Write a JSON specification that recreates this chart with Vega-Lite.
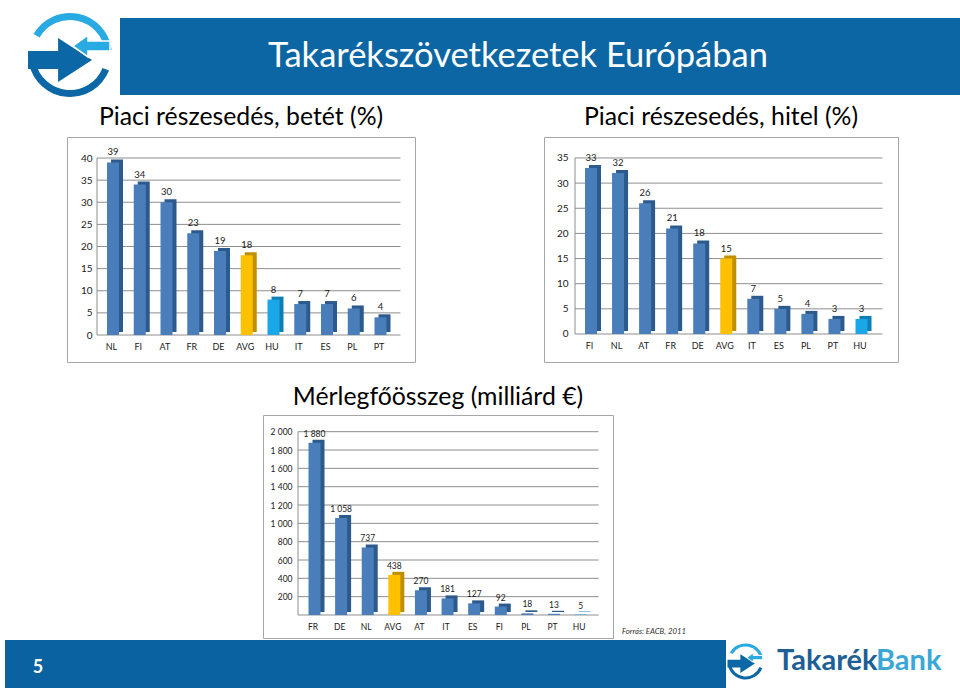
{
  "$schema": "https://vega.github.io/schema/vega-lite/v6.json",
  "background": "white",
  "padding": {"left": 0, "top": 13, "right": 0, "bottom": 8},
  "config": {
    "view": {"stroke": null},
    "font": "Lato",
    "locale": {"number": {"decimal": ",", "thousands": " ", "grouping": [3], "currency": ["", " €"]}}
  },
  "spacing": 0,
  "vconcat": [
    {
      "spacing": 0,
      "hconcat": [
        {
          "width": 120, "height": 86,
          "view": {"fill": "white", "stroke": null},
          "data": {"values": [{}]},
          "layer": [
            {"mark": {"type": "arc", "theta": -1.05, "theta2": 1.45, "innerRadius": 35, "outerRadius": 42, "color": "#2aaae2", "xOffset": 10, "yOffset": -6}, "encoding": {}},
            {"mark": {"type": "arc", "theta": 1.95, "theta2": 4.5, "innerRadius": 35, "outerRadius": 42, "color": "#0b67a5", "xOffset": 10, "yOffset": -6}, "encoding": {}},
            {"mark": {"type": "point", "shape": "M-1,-0.28L-0.06,-0.28L-0.06,-0.69L1,0L-0.06,0.69L-0.06,0.28L-1,0.28Z", "size": 4096, "filled": true, "opacity": 1, "color": "#0b67a5", "xOffset": 0, "yOffset": -1}, "encoding": {}},
            {"mark": {"type": "point", "shape": "M-1,0L-0.19,-0.59L-0.19,-0.27L1,-0.27L1,0.27L-0.19,0.27L-0.19,0.59Z", "size": 1369, "filled": true, "opacity": 1, "color": "#2aaae2", "stroke": "white", "strokeWidth": 1.5, "xOffset": 31.5, "yOffset": -15}, "encoding": {}}
          ]
        },
        {
          "width": 840, "height": 77,
          "view": {"fill": "#0c66a4", "stroke": null},
          "data": {"values": [{}]},
          "mark": {"type": "text", "text": "Takarékszövetkezetek Európában", "color": "white", "fontSize": 34.5, "align": "center", "baseline": "middle", "dx": -22},
          "encoding": {}
        }
      ]
    },
    {
      "spacing": 0,
      "hconcat": [
        {"width": 66, "height": 247, "view": {"fill": "white", "stroke": null}, "data": {"values": []}, "mark": "point"},
        {
          "width": 348, "height": 225,
          "view": {"stroke": "#a6a6a6", "strokeWidth": 1, "fill": "white"},
          "title": {"text": "Piaci részesedés, betét (%)", "frame": "group", "anchor": "middle", "fontSize": 24.8, "fontWeight": "normal", "color": "#000000", "baseline": "top", "offset": 7},
          "data": {"values": [
            {"country": "NL", "value": 39, "kind": "EU"},
            {"country": "FI", "value": 34, "kind": "EU"},
            {"country": "AT", "value": 30, "kind": "EU"},
            {"country": "FR", "value": 23, "kind": "EU"},
            {"country": "DE", "value": 19, "kind": "EU"},
            {"country": "AVG", "value": 18, "kind": "AVG"},
            {"country": "HU", "value": 8, "kind": "HU"},
            {"country": "IT", "value": 7, "kind": "EU"},
            {"country": "ES", "value": 7, "kind": "EU"},
            {"country": "PL", "value": 6, "kind": "EU"},
            {"country": "PT", "value": 4, "kind": "EU"}
          ]},
          "encoding": {
            "x": {"field": "country", "type": "nominal", "sort": null,
                  "scale": {"type": "point", "domain": ["NL","FI","AT","FR","DE","AVG","HU","IT","ES","PL","PT"], "range": [46, 313.5], "padding": 0},
                  "axis": {"orient": "bottom", "offset": -27, "title": null, "domain": false, "ticks": false, "grid": false, "labelAngle": 0, "labelPadding": 7, "labelOffset": -2, "labelFontSize": 9, "labelColor": "#1a1a1a"}},
            "y": {"field": "value", "type": "quantitative",
                  "scale": {"domain": [-6.1, 44.75], "nice": false, "zero": false},
                  "axis": {"orient": "left", "offset": -30, "title": null, "values": [0,5,10,15,20,25,30,35,40], "domain": false, "ticks": false, "grid": false, "labelPadding": 5, "labelFontSize": 10, "labelColor": "#1a1a1a"}}
          },
          "layer": [
            {"data": {"values": [{"country": "NL", "value": 0},{"country": "NL", "value": 5},{"country": "NL", "value": 10},{"country": "NL", "value": 15},{"country": "NL", "value": 20},{"country": "NL", "value": 25},{"country": "NL", "value": 30},{"country": "NL", "value": 35},{"country": "NL", "value": 40}]},
             "mark": {"type": "rule", "color": "#8e8e8e", "strokeWidth": 1, "xOffset": -16, "x2Offset": 20},
             "encoding": {"x2": {"datum": "PT"}}},
            {"data": {"values": [{"country": "NL", "value": 0}]},
             "mark": {"type": "rule", "color": "#8e8e8e", "strokeWidth": 1, "xOffset": -16},
             "encoding": {"y2": {"datum": 40}}},
            {"mark": {"type": "bar", "width": 12, "xOffset": 4, "yOffset": -3},
             "encoding": {"fill": {"field": "kind", "type": "nominal", "scale": {"domain": ["EU","AVG","HU"], "range": ["#2c5a8c","#c08f00","#0e7fb5"]}, "legend": null}}},
            {"mark": {"type": "bar", "width": 12},
             "encoding": {"color": {"field": "kind", "type": "nominal", "scale": {"domain": ["EU","AVG","HU"], "range": ["#4a7ebb","#ffc000","#19a7e8"]}, "legend": null}}},
            {"mark": {"type": "text", "baseline": "alphabetic", "dy": -7, "fontSize": 9.5, "color": "#1a1a1a"},
             "encoding": {"text": {"field": "value", "type": "quantitative"}}}
          ]
        },
        {"width": 127, "height": 1, "view": {"fill": "white", "stroke": null}, "data": {"values": []}, "mark": "point"},
        {
          "width": 354, "height": 225,
          "view": {"stroke": "#a6a6a6", "strokeWidth": 1, "fill": "white"},
          "title": {"text": "Piaci részesedés, hitel (%)", "frame": "group", "anchor": "middle", "fontSize": 24.8, "fontWeight": "normal", "color": "#000000", "baseline": "top", "offset": 7},
          "data": {"values": [
            {"country": "FI", "value": 33, "kind": "EU"},
            {"country": "NL", "value": 32, "kind": "EU"},
            {"country": "AT", "value": 26, "kind": "EU"},
            {"country": "FR", "value": 21, "kind": "EU"},
            {"country": "DE", "value": 18, "kind": "EU"},
            {"country": "AVG", "value": 15, "kind": "AVG"},
            {"country": "IT", "value": 7, "kind": "EU"},
            {"country": "ES", "value": 5, "kind": "EU"},
            {"country": "PL", "value": 4, "kind": "EU"},
            {"country": "PT", "value": 3, "kind": "EU"},
            {"country": "HU", "value": 3, "kind": "HU"}
          ]},
          "encoding": {
            "x": {"field": "country", "type": "nominal", "sort": null,
                  "scale": {"type": "point", "domain": ["FI","NL","AT","FR","DE","AVG","IT","ES","PL","PT","HU"], "range": [47, 317.5], "padding": 0},
                  "axis": {"orient": "bottom", "offset": -28, "title": null, "domain": false, "ticks": false, "grid": false, "labelAngle": 0, "labelPadding": 7, "labelOffset": -2, "labelFontSize": 9, "labelColor": "#1a1a1a"}},
            "y": {"field": "value", "type": "quantitative",
                  "scale": {"domain": [-5.57, 39.17], "nice": false, "zero": false},
                  "axis": {"orient": "left", "offset": -31, "title": null, "values": [0,5,10,15,20,25,30,35], "domain": false, "ticks": false, "grid": false, "labelPadding": 7, "labelFontSize": 10, "labelColor": "#1a1a1a"}}
          },
          "layer": [
            {"data": {"values": [{"country": "FI", "value": 0},{"country": "FI", "value": 5},{"country": "FI", "value": 10},{"country": "FI", "value": 15},{"country": "FI", "value": 20},{"country": "FI", "value": 25},{"country": "FI", "value": 30},{"country": "FI", "value": 35}]},
             "mark": {"type": "rule", "color": "#8e8e8e", "strokeWidth": 1, "xOffset": -16, "x2Offset": 21},
             "encoding": {"x2": {"datum": "HU"}}},
            {"data": {"values": [{"country": "FI", "value": 0}]},
             "mark": {"type": "rule", "color": "#8e8e8e", "strokeWidth": 1, "xOffset": -16},
             "encoding": {"y2": {"datum": 35}}},
            {"mark": {"type": "bar", "width": 12, "xOffset": 4, "yOffset": -3},
             "encoding": {"fill": {"field": "kind", "type": "nominal", "scale": {"domain": ["EU","AVG","HU"], "range": ["#2c5a8c","#c08f00","#0e7fb5"]}, "legend": null}}},
            {"mark": {"type": "bar", "width": 12},
             "encoding": {"color": {"field": "kind", "type": "nominal", "scale": {"domain": ["EU","AVG","HU"], "range": ["#4a7ebb","#ffc000","#19a7e8"]}, "legend": null}}},
            {"mark": {"type": "text", "baseline": "alphabetic", "dy": -7, "fontSize": 9.5, "color": "#1a1a1a"},
             "encoding": {"text": {"field": "value", "type": "quantitative"}}}
          ]
        }
      ]
    },
    {
      "spacing": 0,
      "hconcat": [
        {"width": 262, "height": 225, "view": {"fill": "white", "stroke": null}, "data": {"values": []}, "mark": "point"},
        {
          "width": 350, "height": 223,
          "view": {"stroke": "#a6a6a6", "strokeWidth": 1, "fill": "white"},
          "title": {"text": "Mérlegfőösszeg (milliárd €)", "frame": "group", "anchor": "middle", "fontSize": 24.8, "fontWeight": "normal", "color": "#000000", "baseline": "top", "offset": 5},
          "data": {"values": [
            {"country": "FR", "value": 1880, "kind": "EU"},
            {"country": "DE", "value": 1058, "kind": "EU"},
            {"country": "NL", "value": 737, "kind": "EU"},
            {"country": "AVG", "value": 438, "kind": "AVG"},
            {"country": "AT", "value": 270, "kind": "EU"},
            {"country": "IT", "value": 181, "kind": "EU"},
            {"country": "ES", "value": 127, "kind": "EU"},
            {"country": "FI", "value": 92, "kind": "EU"},
            {"country": "PL", "value": 18, "kind": "EU"},
            {"country": "PT", "value": 13, "kind": "EU"},
            {"country": "HU", "value": 5, "kind": "HU"}
          ]},
          "encoding": {
            "x": {"field": "country", "type": "nominal", "sort": null,
                  "scale": {"type": "point", "domain": ["FR","DE","NL","AVG","AT","IT","ES","FI","PL","PT","HU"], "range": [51.5, 317.6], "padding": 0},
                  "axis": {"orient": "bottom", "offset": -23, "title": null, "domain": false, "ticks": false, "grid": false, "labelAngle": 0, "labelPadding": 7, "labelOffset": -2, "labelFontSize": 8.5, "labelColor": "#1a1a1a"}},
            "y": {"field": "value", "type": "quantitative",
                  "scale": {"domain": [-251, 2182], "nice": false, "zero": false},
                  "axis": {"orient": "left", "offset": -35, "title": null, "values": [200,400,600,800,1000,1200,1400,1600,1800,2000], "format": ",d", "domain": false, "ticks": false, "grid": false, "labelPadding": 6, "labelFontSize": 8.5, "labelColor": "#1a1a1a"}}
          },
          "layer": [
            {"data": {"values": [{"country": "FR", "value": 0},{"country": "FR", "value": 200},{"country": "FR", "value": 400},{"country": "FR", "value": 600},{"country": "FR", "value": 800},{"country": "FR", "value": 1000},{"country": "FR", "value": 1200},{"country": "FR", "value": 1400},{"country": "FR", "value": 1600},{"country": "FR", "value": 1800},{"country": "FR", "value": 2000}]},
             "mark": {"type": "rule", "color": "#8e8e8e", "strokeWidth": 1, "xOffset": -16.5, "x2Offset": 18},
             "encoding": {"x2": {"datum": "HU"}}},
            {"data": {"values": [{"country": "FR", "value": 0}]},
             "mark": {"type": "rule", "color": "#8e8e8e", "strokeWidth": 1, "xOffset": -16.5},
             "encoding": {"y2": {"datum": 2000}}},
            {"mark": {"type": "bar", "width": 12, "xOffset": 4, "yOffset": -3},
             "encoding": {"fill": {"field": "kind", "type": "nominal", "scale": {"domain": ["EU","AVG","HU"], "range": ["#2c5a8c","#c08f00","#0e7fb5"]}, "legend": null}}},
            {"mark": {"type": "bar", "width": 12},
             "encoding": {"color": {"field": "kind", "type": "nominal", "scale": {"domain": ["EU","AVG","HU"], "range": ["#4a7ebb","#ffc000","#19a7e8"]}, "legend": null}}},
            {"mark": {"type": "text", "baseline": "alphabetic", "dy": -6, "fontSize": 8.5, "color": "#1a1a1a"},
             "encoding": {"text": {"field": "value", "type": "quantitative", "format": ",d"}}}
          ]
        },
        {"width": 8, "height": 1, "view": {"fill": "white", "stroke": null}, "data": {"values": []}, "mark": "point"},
        {"width": 80, "height": 205, "view": {"fill": "white", "stroke": null}, "data": {"values": []}, "mark": "point",
         "title": {"text": "Forrás: EACB, 2011", "orient": "bottom", "anchor": "start", "frame": "group", "fontSize": 7.8, "fontStyle": "italic", "fontWeight": "normal", "color": "#333333", "baseline": "top", "offset": 8}}
      ]
    },
    {
      "spacing": 0,
      "hconcat": [
        {"width": 5, "height": 1, "view": {"fill": "white", "stroke": null}, "data": {"values": []}, "mark": "point"},
        {
          "width": 721, "height": 48,
          "view": {"fill": "#0b62a0", "stroke": null},
          "data": {"values": [{}]},
          "mark": {"type": "text", "text": "5", "color": "white", "fontSize": 18, "fontWeight": "bold", "align": "center", "baseline": "middle", "dx": -327.5, "dy": 4},
          "encoding": {}
        },
        {
          "width": 234, "height": 48,
          "view": {"fill": "white", "stroke": null},
          "data": {"values": [{}]},
          "layer": [
            {"mark": {"type": "arc", "theta": -1.05, "theta2": 1.45, "innerRadius": 15, "outerRadius": 18, "color": "#2aaae2", "xOffset": -97.5, "yOffset": -2.5}, "encoding": {}},
            {"mark": {"type": "arc", "theta": 1.95, "theta2": 4.5, "innerRadius": 15, "outerRadius": 18, "color": "#0b67a5", "xOffset": -97.5, "yOffset": -2.5}, "encoding": {}},
            {"mark": {"type": "point", "shape": "M-1,-0.28L-0.06,-0.28L-0.06,-0.69L1,0L-0.06,0.69L-0.06,0.28L-1,0.28Z", "size": 752, "filled": true, "opacity": 1, "color": "#0b67a5", "xOffset": -101.8, "yOffset": -0.4}, "encoding": {}},
            {"mark": {"type": "point", "shape": "M-1,0L-0.19,-0.59L-0.19,-0.27L1,-0.27L1,0.27L-0.19,0.27L-0.19,0.59Z", "size": 251, "filled": true, "opacity": 1, "color": "#2aaae2", "stroke": "white", "strokeWidth": 1, "xOffset": -88.3, "yOffset": -6.4}, "encoding": {}},
            {"mark": {"type": "text", "text": "Takarék", "color": "#1d5f96", "fontSize": 29, "fontWeight": "bold", "align": "left", "baseline": "alphabetic", "dx": -66, "dy": 6}, "encoding": {}},
            {"mark": {"type": "text", "text": "Bank", "color": "#3ba7d9", "fontSize": 29, "fontWeight": "bold", "align": "left", "baseline": "alphabetic", "dx": 33, "dy": 6}, "encoding": {}}
          ]
        }
      ]
    }
  ]
}
